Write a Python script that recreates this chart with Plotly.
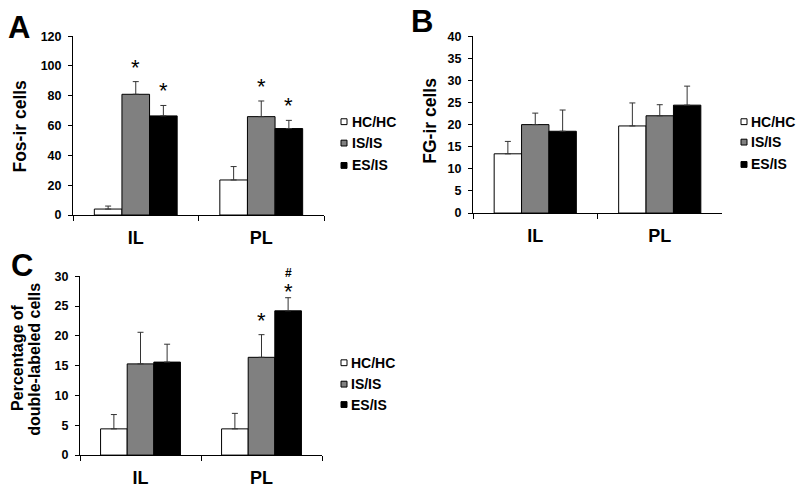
import plotly.graph_objects as go

# ---------------- data ----------------
categories = ["IL", "PL"]
groups = ["HC/HC", "IS/IS", "ES/IS"]
group_colors = ["#ffffff", "#808080", "#000000"]

# per group (HC/HC, IS/IS, ES/IS), values for IL, PL
fos_means = [[4.0, 23.5], [81.0, 66.0], [66.5, 58.0]]
fos_errs = [[2.0, 9.0], [8.5, 10.5], [7.0, 5.5]]
fos_marks = [["", ""], ["*", "*"], ["*", "*"]]

fg_means = [[13.4, 19.7], [20.0, 22.0], [18.5, 24.4]]
fg_errs = [[2.8, 5.2], [2.6, 2.5], [4.8, 4.3]]
fg_marks = [["", ""], ["", ""], ["", ""]]

dbl_means = [[4.4, 4.4], [15.3, 16.4], [15.6, 24.2]]
dbl_errs = [[2.4, 2.6], [5.3, 3.8], [3.0, 2.2]]
dbl_marks = [["", ""], ["", "*"], ["", "*"]]
dbl_hash = [["", ""], ["", ""], ["", "#"]]

fos_ticks = [0, 20, 40, 60, 80, 100, 120]
fg_ticks = [0, 5, 10, 15, 20, 25, 30, 35, 40]
dbl_ticks = [0, 5, 10, 15, 20, 25, 30]

# ---------------- layout helpers ----------------
W, H = 800, 500
FONT = "Liberation Sans, Arial, sans-serif"
BARGAP = 0.34


def px(x):
    return x / W


def py(y):
    return 1 - y / H


panels = [
    dict(ax="", means=fos_means, errs=fos_errs, marks=fos_marks, hashes=None,
         ticks=fos_ticks, xd=(73, 324), yd=(30, 214),
         letter="A", letter_pos=(19, 21),
         titles=[("Fos-ir cells", 20, 123, 17.5)],
         legend_box_x=341, legend_text_x=350, legend_y=[118, 140, 163]),
    dict(ax="2", means=fg_means, errs=fg_errs, marks=fg_marks, hashes=None,
         ticks=fg_ticks, xd=(473, 722), yd=(30, 212),
         letter="B", letter_pos=(422, 15),
         titles=[("FG-ir cells", 430, 117, 17.5)],
         legend_box_x=741, legend_text_x=749, legend_y=[118, 139, 162]),
    dict(ax="3", means=dbl_means, errs=dbl_errs, marks=dbl_marks, hashes=dbl_hash,
         ticks=dbl_ticks, xd=(80, 322), yd=(277, 461),
         letter="C", letter_pos=(22, 266),
         titles=[("Percentage of", 18, 361, 16), ("double-labeled cells", 35, 363, 16)],
         legend_box_x=341, legend_text_x=349, legend_y=[366, 388, 409]),
]

fig = go.Figure()
annotations = []
shapes = []
layout_axes = {}

bar_w = (1 - BARGAP) / len(groups)

for p in panels:
    xa = "x" + p["ax"]
    ya = "y" + p["ax"]
    for k, g in enumerate(groups):
        fig.add_trace(go.Bar(
            x=categories, y=p["means"][k], name=g,
            xaxis=xa, yaxis=ya, offsetgroup=str(k), showlegend=False,
            marker=dict(color=group_colors[k], line=dict(color="#000000", width=1)),
            error_y=dict(type="data", array=p["errs"][k], arrayminus=[0] * len(categories),
                         symmetric=False, color="#333333", thickness=1, width=3),
        ))
        # significance marks above error bars
        for i, c in enumerate(categories):
            top = p["means"][k][i] + p["errs"][k][i]
            xpos = i + (k - 1) * bar_w
            mark = p["marks"][k][i]
            has_hash = p["hashes"] is not None and p["hashes"][k][i]
            if mark:
                annotations.append(dict(
                    x=xpos, y=top, xref=xa, yref=ya, text=mark, showarrow=False,
                    xanchor="center", yanchor="bottom",
                    yshift=-8 if has_hash else 0,
                    font=dict(family=FONT, size=22, color="#000000")))
            if has_hash:
                annotations.append(dict(
                    x=xpos, y=top, xref=xa, yref=ya, text=p["hashes"][k][i], showarrow=False,
                    xanchor="center", yanchor="bottom", yshift=16,
                    font=dict(family=FONT, size=12, color="#000000", weight="bold")))

    axis_name_x = "xaxis" + p["ax"]
    axis_name_y = "yaxis" + p["ax"]
    layout_axes[axis_name_x] = dict(
        domain=[px(p["xd"][0]), px(p["xd"][1])], anchor=ya, type="category",
        range=[-0.5, len(categories) - 0.5],
        showline=True, linecolor="#000000", linewidth=1,
        ticks="outside", tickson="boundaries", ticklen=5, tickcolor="#000000", tickwidth=1,
        tickfont=dict(family=FONT, size=18, color="#000000", weight="bold"),
        ticklabelstandoff=6,
        showgrid=False, zeroline=False, fixedrange=True,
    )
    layout_axes[axis_name_y] = dict(
        domain=[py(p["yd"][1]), py(p["yd"][0])], anchor=xa,
        range=[p["ticks"][0], p["ticks"][-1]], tickvals=p["ticks"],
        showline=True, linecolor="#000000", linewidth=1,
        ticks="outside", ticklen=4, tickcolor="#000000", tickwidth=1,
        tickfont=dict(family=FONT, size=12.5, color="#000000", weight="bold"),
        ticklabelstandoff=4,
        showgrid=False, zeroline=False, fixedrange=True,
    )

    # panel letter
    lx, ly = p["letter_pos"]
    annotations.append(dict(
        x=px(lx), y=py(ly), xref="paper", yref="paper", text=p["letter"], showarrow=False,
        xanchor="center", yanchor="middle",
        font=dict(family=FONT, size=31, color="#000000", weight="bold")))
    # y titles
    for t, tx, ty, fs in p["titles"]:
        annotations.append(dict(
            x=px(tx), y=py(ty), xref="paper", yref="paper", text=t, showarrow=False,
            textangle=-90, xanchor="center", yanchor="middle",
            font=dict(family=FONT, size=fs, color="#000000", weight="bold")))
    # legend
    for k, g in enumerate(groups):
        cy = p["legend_y"][k]
        bx = p["legend_box_x"]
        shapes.append(dict(
            type="rect", xref="paper", yref="paper",
            x0=px(bx), x1=px(bx + 6), y0=py(cy + 3), y1=py(cy - 3),
            fillcolor=group_colors[k], line=dict(color="#000000", width=1)))
        annotations.append(dict(
            x=px(p["legend_text_x"]), y=py(cy), xref="paper", yref="paper", text=g,
            showarrow=False, xanchor="left", yanchor="middle",
            font=dict(family=FONT, size=14, color="#000000", weight="bold")))

fig.update_layout(
    width=W, height=H,
    margin=dict(l=0, r=0, t=0, b=0),
    paper_bgcolor="#ffffff", plot_bgcolor="#ffffff",
    barmode="group", bargap=BARGAP, bargroupgap=0,
    showlegend=False,
    annotations=annotations, shapes=shapes,
    font=dict(family=FONT, color="#000000"),
    **layout_axes,
)

# remove the browser's default 8px body margin so the 800x500 figure fills the window
fig.write_html("out.html", config={"displayModeBar": False},
               post_script="document.body.style.margin='0px';")
